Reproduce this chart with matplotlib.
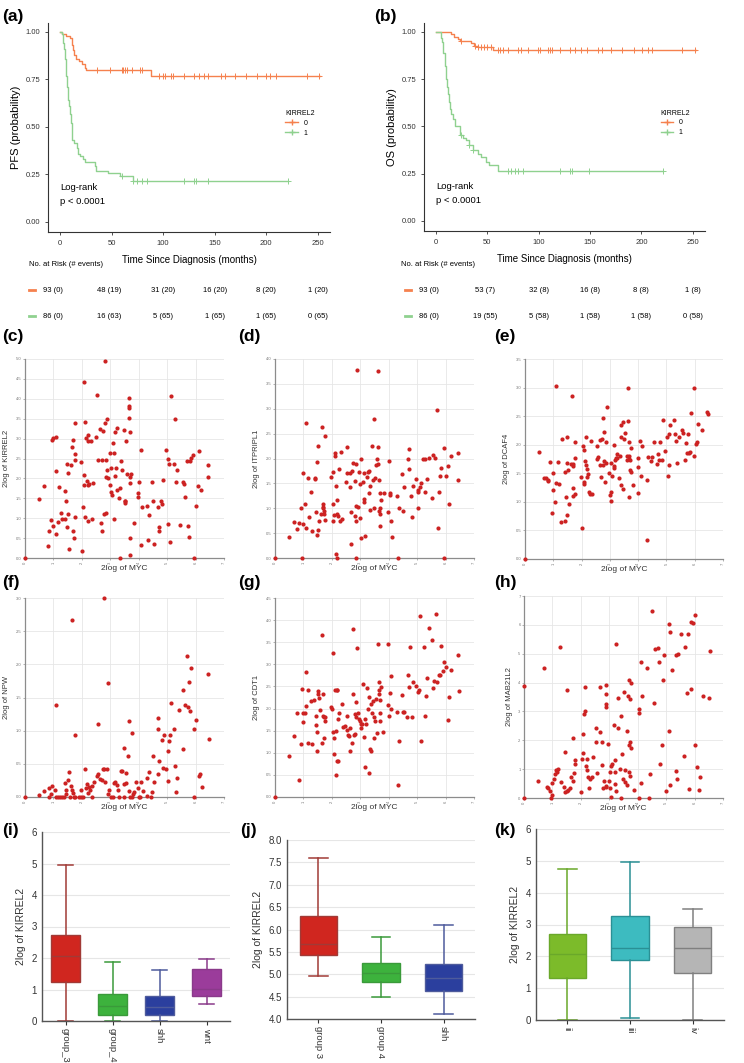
import numpy as np
import matplotlib
matplotlib.use('Agg')
import matplotlib.pyplot as plt
from matplotlib.transforms import blended_transform_factory

plt.rcParams['font.family'] = ['Liberation Sans', 'DejaVu Sans']

W, H = 744, 1063

# ---------------- survival data (a) PFS, (b) OS ----------------
pfs0_t = [0, 2, 6, 10, 12, 13, 14, 15, 18, 21, 24, 25, 88, 252]
pfs0_s = [1.0, 0.99, 0.98, 0.97, 0.93, 0.905, 0.88, 0.855, 0.845, 0.83, 0.81, 0.797, 0.77, 0.77]
pfs0_c = [36, 48, 60, 61.5, 63, 64.5, 70, 78, 80, 96.5, 100, 101.5, 107.5, 109.5, 120, 130, 135,
          139.5, 144, 156, 160, 170, 180, 191.5, 199.5, 204, 210, 239.5, 251.5]
pfs1_t = [0, 2, 3, 4, 4.5, 5.5, 6, 7, 8, 9, 10, 11, 12, 14, 16, 17.5, 19, 22, 24, 34, 35, 47, 58, 70.5, 221]
pfs1_s = [1.0, 0.99, 0.94, 0.91, 0.86, 0.83, 0.77, 0.71, 0.64, 0.61, 0.57, 0.52, 0.43, 0.415, 0.39,
          0.36, 0.345, 0.33, 0.315, 0.295, 0.27, 0.255, 0.24, 0.215, 0.215]
pfs1_c = [60, 70.5, 75, 80, 84, 120, 130, 131.5, 144, 221]

os0_t = [0, 14.5, 17.5, 21, 23.5, 34, 37, 40.5, 55.5, 253]
os0_s = [1.0, 0.988, 0.975, 0.96, 0.95, 0.94, 0.926, 0.918, 0.904, 0.904]
os0_c = [24, 38, 41, 44, 47, 50, 53.5, 60, 62, 65, 70, 80, 83, 90, 99.5, 101, 109, 111, 112.5, 120.5,
         130.5, 135.5, 141, 147, 158, 161.5, 170, 181, 192.5, 201, 206, 210.5, 240, 252.5]
os1_t = [0, 4.6, 6, 7, 8.5, 9.5, 10.5, 11.8, 12.8, 13.7, 15, 16.7, 18.3, 23.5, 26, 29, 32, 35.7, 40.6,
         44, 48.8, 51.4, 60, 221.5]
os1_s = [1.0, 0.97, 0.944, 0.89, 0.82, 0.75, 0.707, 0.67, 0.63, 0.59, 0.567, 0.54, 0.5, 0.456, 0.44,
         0.426, 0.404, 0.377, 0.356, 0.34, 0.312, 0.296, 0.263, 0.263]
os1_c = [24.2, 32, 35.7, 70, 73.3, 77, 80, 84.7, 120.7, 130.6, 132, 148.6, 221.5]

risk_times = [-7, 48, 100, 150, 200, 250]
pfs_risk0 = ['93 (0)', '48 (19)', '31 (20)', '16 (20)', '8 (20)', '1 (20)']
pfs_risk1 = ['86 (0)', '16 (63)', '5 (65)', '1 (65)', '1 (65)', '0 (65)']
os_risk0 = ['93 (0)', '53 (7)', '32 (8)', '16 (8)', '8 (8)', '1 (8)']
os_risk1 = ['86 (0)', '19 (55)', '5 (58)', '1 (58)', '1 (58)', '0 (58)']

# ---------------- scatter data: (2log MYC, 2log gene) ----------------
c_pts = [(0.50,1.48),(0.68,1.80),(0.90,0.96),(0.94,2.97),(1.00,3.01),(1.09,3.03),(1.08,2.19),(0.98,0.80),
         (0.84,0.68),(1.09,0.60),(1.17,0.90),(1.18,1.78),(1.25,1.14),(1.30,0.98),(1.41,1.68),(1.42,0.98),
         (1.43,1.44),(1.48,2.37),(1.51,2.14),(1.48,0.77),(1.52,1.10),(1.63,2.34),(1.65,2.78),(1.68,0.69),
         (1.70,2.97),(1.71,0.49),(1.75,2.47),(1.77,2.62),(1.77,3.39),(1.77,1.03),(1.97,2.41),(2.04,1.29),
         (2.06,4.42),(2.08,2.08),(2.08,1.84),(2.12,3.41),(2.11,1.03),(2.16,3.01),(2.18,1.94),(2.20,1.83),
         (2.22,2.93),(2.23,3.09),(2.25,1.85),(2.23,0.92),(2.33,2.95),(2.36,0.99),(2.39,1.88),(2.51,3.04),
         (2.53,4.10),(2.56,2.47),(2.64,3.24),(2.67,0.87),(2.70,2.47),(2.72,0.68),(2.74,3.20),(2.77,1.11),
         (2.81,4.96),(2.83,3.39),(2.84,1.13),(2.85,2.03),(2.86,2.47),(2.87,2.20),(2.90,3.50),(2.92,2.00),
         (2.99,2.63),(2.99,1.83),(3.01,2.25),(3.02,1.66),(3.06,1.58),(3.11,2.89),(3.13,0.97),(3.14,2.65),
         (3.15,3.17),(3.18,2.07),(3.20,2.25),(3.25,3.27),(3.25,1.71),(3.31,1.52),(3.33,1.76),(3.36,2.43),
         (3.41,2.22),(3.48,3.22),(3.51,1.37),(3.51,1.44),(3.53,1.42),(3.55,2.95),(3.58,2.10),(3.65,3.77),
         (3.65,3.83),(3.66,4.03),(3.67,3.51),(3.69,3.16),(3.68,1.89),(3.71,2.04),(3.74,2.12),(3.71,0.51),
         (3.82,0.87),(3.99,1.64),(3.99,1.53),(4.01,1.92),(4.09,2.71),(4.10,1.29),(4.29,1.31),(4.33,0.45),
         (4.37,1.09),(4.47,1.92),(4.50,1.44),(4.68,1.29),(4.70,0.68),(4.72,0.78),(4.78,1.42),(4.82,1.35),
         (4.87,1.97),(4.95,2.71),(5.04,2.49),(5.04,0.85),(5.07,2.36),(5.13,4.08),(5.24,2.36),(5.28,3.48),
         (5.31,1.91),(5.36,2.22),(5.44,0.83),(5.55,1.91),(5.58,1.85),(5.63,1.53),(5.70,2.43),(5.74,0.80),
         (5.78,0.52),(5.80,2.43),(5.85,2.51),(5.92,2.58),(6.01,1.31),(6.08,1.80),(6.12,2.68),(6.20,1.71),
         (6.42,2.33),(6.45,2.03),(0.0,0.0),(0.80,0.31),(1.56,0.23),(1.99,0.18),(3.34,0.0),(3.68,0.07),
         (4.07,0.32),(4.55,0.35),(5.09,0.39),(5.96,0.0)]

d_pts = [(0.49,0.42),(0.68,0.72),(0.79,0.58),(0.83,0.70),(0.90,1.01),(0.97,0.69),(0.98,1.71),(1.07,1.09),
         (1.08,2.71),(1.08,0.60),(1.16,1.61),(1.18,0.83),(1.25,1.32),(1.29,0.55),(1.40,1.60),(1.42,1.59),
         (1.43,0.92),(1.47,1.93),(1.48,0.47),(1.50,0.56),(1.51,2.26),(1.55,0.75),(1.62,0.88),(1.64,2.64),
         (1.68,1.03),(1.69,1.09),(1.70,1.00),(1.72,0.95),(1.72,0.89),(1.75,0.76),(1.77,2.45),(1.97,1.63),
         (2.03,0.75),(2.04,1.72),(2.05,1.09),(2.09,0.87),(2.10,2.11),(2.11,2.06),(2.15,1.44),(2.17,0.89),
         (2.19,1.17),(2.22,0.84),(2.24,1.79),(2.30,0.75),(2.33,2.13),(2.36,0.79),(2.51,1.52),(2.52,1.71),
         (2.54,2.24),(2.63,1.70),(2.64,1.43),(2.68,0.93),(2.72,1.74),(2.74,1.91),(2.81,1.54),(2.82,0.84),
         (2.84,0.74),(2.85,1.89),(2.86,1.04),(2.88,3.77),(2.93,1.03),(2.95,1.73),(2.99,0.81),(3.00,1.48),
         (3.01,2.00),(3.04,0.41),(3.09,1.53),(3.12,1.19),(3.13,1.70),(3.14,1.12),(3.17,0.44),(3.22,1.62),
         (3.26,1.73),(3.29,1.74),(3.32,1.31),(3.33,0.97),(3.35,1.45),(3.41,2.25),(3.46,1.56),(3.48,2.79),
         (3.48,1.00),(3.51,1.61),(3.55,1.87),(3.59,1.99),(3.63,2.23),(3.63,3.75),(3.63,1.89),(3.67,1.56),
         (3.66,0.95),(3.68,0.65),(3.68,1.01),(3.71,0.88),(3.71,1.31),(3.74,1.16),(3.82,1.31),(3.97,0.92),
         (4.01,1.94),(4.03,1.30),(4.06,1.27),(4.08,0.75),(4.11,0.43),(4.28,1.24),(4.37,1.00),(4.45,1.69),
         (4.49,0.95),(4.54,1.43),(4.67,1.98),(4.70,2.20),(4.71,1.79),(4.77,1.25),(4.82,0.83),(4.85,1.45),
         (4.95,1.58),(5.03,1.36),(5.04,1.32),(5.04,1.00),(5.09,1.43),(5.12,1.50),(5.22,1.98),(5.28,1.99),
         (5.26,1.33),(5.33,1.59),(5.42,2.02),(5.53,1.20),(5.56,2.08),(5.63,2.01),(5.69,2.97),(5.73,0.60),
         (5.77,1.32),(5.79,1.65),(5.84,1.81),(5.94,2.21),(6.01,1.65),(6.07,1.84),(6.11,1.09),(6.20,2.05),
         (6.42,2.12),(6.45,1.57),(0.0,0.0),(0.94,0.0),(2.16,0.09),(2.17,0.0),(2.68,0.29),(2.85,0.0),
         (4.31,0.0),(5.96,0.0)]

e_pts = [(0.49,1.88),(0.67,1.41),(0.74,1.41),(0.80,1.39),(0.83,1.37),(0.89,1.70),(0.94,0.80),(0.99,1.21),
         (0.99,1.50),(1.07,0.99),(1.08,1.33),(1.09,3.03),(1.15,1.70),(1.19,1.32),(1.27,0.65),(1.30,2.10),
         (1.41,0.66),(1.43,1.52),(1.44,1.09),(1.48,0.77),(1.50,2.14),(1.50,1.68),(1.53,1.56),(1.56,0.96),
         (1.64,1.67),(1.66,2.86),(1.68,1.10),(1.69,1.25),(1.70,1.62),(1.71,1.66),(1.75,1.14),(1.76,1.76),
         (1.77,2.04),(1.99,1.44),(2.03,0.55),(2.06,1.97),(2.07,1.34),(2.09,1.31),(2.09,1.91),(2.13,1.71),
         (2.16,2.13),(2.17,1.65),(2.20,1.57),(2.20,1.44),(2.23,1.48),(2.25,1.17),(2.30,1.14),(2.35,2.06),
         (2.37,1.13),(2.53,1.97),(2.55,1.75),(2.57,1.78),(2.64,1.65),(2.64,2.08),(2.70,1.43),(2.72,2.10),
         (2.75,1.65),(2.77,2.46),(2.80,2.23),(2.81,1.72),(2.85,1.68),(2.85,2.04),(2.84,1.34),(2.91,2.66),
         (2.96,1.51),(2.99,1.12),(3.03,1.02),(3.03,1.68),(3.04,1.18),(3.07,1.46),(3.13,1.62),(3.15,1.59),
         (3.16,1.99),(3.18,1.73),(3.22,1.76),(3.24,1.83),(3.26,1.76),(3.34,1.41),(3.35,1.81),(3.39,2.34),
         (3.41,2.13),(3.41,1.30),(3.48,1.22),(3.48,2.39),(3.51,2.10),(3.53,2.20),(3.60,1.81),(3.62,1.73),
         (3.64,2.99),(3.64,2.41),(3.67,2.04),(3.68,1.80),(3.68,1.09),(3.69,1.75),(3.70,1.73),(3.70,1.56),
         (3.73,1.95),(3.73,1.53),(3.83,1.29),(3.99,1.15),(4.01,1.77),(4.01,1.61),(4.07,2.07),(4.10,1.46),
         (4.12,1.97),(4.30,1.38),(4.36,1.79),(4.46,1.72),(4.49,1.78),(4.57,2.04),(4.68,1.66),(4.70,1.84),
         (4.75,1.73),(4.79,2.05),(4.85,1.73),(4.89,2.43),(4.96,1.89),(5.03,2.14),(5.05,1.46),(5.08,2.19),
         (5.08,1.64),(5.14,2.35),(5.26,2.44),(5.29,2.18),(5.33,2.07),(5.36,1.68),(5.45,2.13),(5.56,2.26),
         (5.59,2.21),(5.64,1.73),(5.69,2.03),(5.73,1.86),(5.77,2.19),(5.79,1.86),(5.83,1.88),(5.86,2.56),
         (5.96,1.80),(5.97,2.99),(6.03,2.02),(6.08,2.04),(6.12,2.37),(6.24,2.25),(6.44,2.58),(6.46,2.54),
         (4.32,0.33),(0.0,0.0)]

f_pts = [(2.77,3.00),(1.65,2.67),(1.09,1.38),(1.77,0.94),(2.56,1.10),(2.91,1.72),(3.65,1.15),(3.75,0.96),
         (3.49,0.74),(4.69,1.19),(4.68,1.02),(4.83,0.86),(4.88,0.94),(5.09,0.94),(5.06,0.84),(5.13,1.42),
         (5.24,1.03),(5.43,1.31),(5.55,0.73),(5.57,1.62),(5.63,1.38),(5.69,2.12),(5.72,1.35),(5.78,1.74),
         (5.80,1.29),(5.85,1.94),(5.96,1.03),(6.03,1.16),(6.45,1.86),(6.46,0.87),
         (0.00,0.00),(0.50,0.03),(0.68,0.09),(0.83,0.13),(0.84,0.00),(0.90,0.04),(0.96,0.16),(1.06,0.11),
         (1.09,0.00),(1.17,0.00),(1.23,0.00),(1.30,0.00),(1.37,0.00),(1.42,0.21),(1.44,0.10),(1.45,0.05),
         (1.50,0.26),(1.55,0.37),(1.58,0.00),(1.62,0.16),(1.65,0.10),(1.69,0.06),(1.71,0.00),(1.75,0.00),
         (1.89,0.00),(1.97,0.10),(1.98,0.00),(2.04,0.00),(2.12,0.42),(2.15,0.14),(2.19,0.19),(2.22,0.06),
         (2.26,0.15),(2.30,0.10),(2.34,0.17),(2.37,0.00),(2.43,0.22),(2.52,0.31),(2.58,0.35),(2.64,0.27),
         (2.70,0.25),(2.73,0.42),(2.77,0.42),(2.82,0.22),(2.87,0.42),(2.91,0.04),(2.97,0.10),(3.02,0.00),
         (3.11,0.00),(3.13,0.21),(3.16,0.22),(3.22,0.18),(3.28,0.11),(3.32,0.00),(3.36,0.39),(3.41,0.39),
         (3.47,0.00),(3.48,0.19),(3.55,0.36),(3.57,0.21),(3.62,0.62),(3.65,0.09),(3.71,0.00),(3.76,0.00),
         (3.81,0.05),(3.83,0.08),(3.91,0.23),(3.98,0.14),(4.01,0.00),(4.05,0.00),(4.09,0.23),(4.14,0.09),
         (4.28,0.28),(4.30,0.01),(4.37,0.38),(4.44,0.00),(4.48,0.08),(4.51,0.62),(4.55,0.22),(4.69,0.34),
         (4.72,0.55),(4.86,0.44),(4.96,0.42),(5.04,0.24),(5.03,0.69),(5.27,0.47),(5.31,0.07),(5.36,0.29),
         (5.96,0.00),(6.11,0.32),(6.14,0.34),(6.21,0.15)]

g_pts = [(0.68,1.39),(0.79,1.91),(0.90,1.20),(0.94,2.44),(0.97,1.91),(0.97,1.70),(1.06,1.91),(1.08,2.83),
         (1.08,2.06),(1.15,2.42),(1.17,1.21),(1.25,2.18),(1.29,1.19),(1.38,2.19),(1.44,1.63),(1.45,1.84),
         (1.47,1.48),(1.51,2.39),(1.51,2.33),(1.55,2.23),(1.58,1.97),(1.64,3.67),(1.65,1.21),(1.69,1.84),
         (1.69,2.33),(1.72,1.34),(1.73,1.81),(1.76,1.71),(1.76,1.82),(1.98,2.04),(2.00,2.00),(2.03,3.25),
         (2.03,1.47),(2.09,1.33),(2.11,2.42),(2.15,1.50),(2.17,2.42),(2.19,2.42),(2.23,1.76),(2.26,1.90),
         (2.34,2.10),(2.39,1.59),(2.45,1.60),(2.52,1.84),(2.53,1.51),(2.56,1.41),(2.60,1.37),(2.65,1.55),
         (2.70,1.21),(2.73,2.33),(2.76,3.80),(2.77,1.41),(2.83,1.87),(2.83,1.42),(2.85,2.14),(2.86,1.82),
         (2.90,3.38),(2.92,1.90),(2.97,1.76),(2.99,1.71),(3.01,1.66),(3.02,1.57),(3.05,1.66),(3.09,2.56),
         (3.14,1.36),(3.17,1.77),(3.19,1.66),(3.22,2.47),(3.27,1.99),(3.32,2.27),(3.33,1.09),(3.38,2.11),
         (3.41,1.91),(3.46,2.16),(3.48,1.34),(3.49,1.81),(3.52,1.71),(3.55,2.21),(3.58,1.44),(3.62,3.47),
         (3.65,2.59),(3.65,2.41),(3.66,2.33),(3.68,1.90),(3.68,1.71),(3.71,2.19),(3.74,2.49),(3.81,1.46),
         (3.97,3.47),(3.97,2.07),(4.02,1.84),(4.04,2.35),(4.08,1.99),(4.09,2.74),(4.28,1.92),(4.37,1.26),
         (4.45,2.31),(4.49,1.93),(4.54,1.93),(4.65,1.81),(4.69,2.75),(4.70,2.48),(4.76,3.40),(4.83,1.81),
         (4.87,2.61),(4.95,2.51),(5.04,2.38),(5.05,2.42),(5.09,4.09),(5.12,1.27),(5.24,3.40),(5.26,1.84),
         (5.30,2.29),(5.35,2.70),(5.43,3.83),(5.54,3.56),(5.55,2.47),(5.61,2.63),(5.68,4.13),(5.71,2.61),
         (5.76,2.76),(5.79,2.77),(5.84,3.42),(5.91,2.85),(5.94,3.05),(6.01,2.95),(6.11,2.26),(6.08,1.73),
         (6.20,2.87),(6.43,3.20),(6.46,2.40),
         (0.00,0.00),(0.48,0.92),(0.83,0.39),(1.47,1.05),(2.07,0.98),(2.19,0.82),(2.23,0.81),(2.16,0.50),
         (2.64,1.03),(3.15,0.67),(3.30,0.55),(3.36,1.05),(4.31,0.27)]

h_pts = [(0.00,3.89),(0.69,4.51),(1.28,5.24),(1.52,3.75),(1.72,2.08),(2.07,2.21),(2.11,2.91),(2.13,3.86),
         (2.14,3.00),(2.54,2.42),(2.54,1.95),(2.67,3.84),(2.67,2.27),(2.76,1.93),(2.87,3.93),(2.88,3.61),
         (2.89,3.26),(2.87,3.15),(2.94,1.86),(3.15,2.52),(3.22,5.34),(3.29,3.48),(3.30,2.41),(3.41,2.84),
         (3.51,3.67),(3.61,2.32),(3.67,3.54),(3.70,4.08),(3.69,1.84),(3.72,1.95),(3.74,3.44),(3.75,3.97),
         (3.77,1.75),(4.03,3.09),(4.04,2.93),(4.11,4.73),(4.15,3.55),(4.33,4.52),(4.52,6.47),(4.56,3.30),
         (4.60,5.16),(4.72,5.21),(4.74,4.70),(4.84,1.84),(4.88,4.08),(4.94,4.96),(5.11,6.03),(5.11,2.31),
         (5.15,5.74),(5.21,4.43),(5.33,4.94),(5.43,5.00),(5.52,5.67),(5.65,5.25),(5.72,3.64),(5.76,5.67),
         (5.86,6.09),(5.88,3.77),(5.94,6.06),(6.03,6.35),(6.03,1.85),(6.29,3.53),(6.52,3.47),(6.53,5.09),
         (0.00,0.00),(0.49,0.60),(0.80,0.38),(0.84,0.33),(0.90,0.24),(0.96,0.00),(0.98,0.11),(0.99,0.53),
         (1.05,0.65),(1.09,0.84),(1.11,0.97),(1.15,0.91),(1.19,1.01),(1.29,0.56),(1.41,0.38),(1.43,0.22),
         (1.45,1.60),(1.50,0.24),(1.55,0.26),(1.62,0.33),(1.66,0.73),(1.71,0.60),(1.76,0.85),(1.78,1.19),
         (1.79,1.31),(2.01,0.20),(2.04,1.34),(2.07,1.56),(2.17,1.10),(2.21,1.36),(2.22,0.97),(2.25,0.74),
         (2.28,0.36),(2.33,0.65),(2.38,0.74),(2.41,1.42),(2.58,0.85),(2.73,1.15),(2.78,0.34),(2.82,0.60),
         (2.87,0.38),(2.90,0.43),(2.99,0.60),(3.01,0.89),(3.04,0.34),(3.06,1.10),(3.07,0.02),(3.09,1.19),
         (3.19,0.90),(3.20,0.47),(3.21,1.33),(3.22,0.23),(3.38,1.00),(3.40,0.00),(3.44,1.53),(3.48,0.65),
         (3.55,0.57),(3.57,0.97),(3.62,0.45),(3.71,0.91),(3.72,0.76),(3.86,0.27),(4.06,0.00),(4.13,0.53),
         (4.38,0.00),(4.44,0.82),(4.78,1.19),(5.00,0.23),(5.13,0.45),(5.34,0.92),(5.37,0.67),(5.62,1.45),
         (5.81,0.32),(6.10,1.06),(6.17,0.26),(6.19,0.74)]

# ---------------- box plot summaries: whislo, q1, med, q3, whishi ----------------
i_groups = ['group_3', 'group_4', 'shh', 'wnt']
i_stats = [(0.0, 1.23, 2.05, 2.72, 4.95), (0.0, 0.20, 0.47, 0.87, 1.87),
           (0.0, 0.20, 0.45, 0.79, 1.62), (0.55, 0.80, 1.03, 1.66, 1.97)]
j_groups = ['group 3', 'group 4', 'shh']
j_stats = [(4.95, 5.43, 5.68, 6.30, 7.60), (4.49, 4.82, 5.02, 5.26, 5.84),
           (4.12, 4.62, 4.91, 5.22, 6.09)]
k_groups = ['ii', 'iii', 'iv']
k_stats = [(0.0, 1.32, 2.07, 2.70, 4.75), (0.05, 1.87, 2.25, 3.27, 4.95),
           (0.0, 1.47, 2.25, 2.92, 3.50)]

ORANGE = '#F5814E'
GREEN = '#8FD18F'
RED = '#CC2222'


def rect(l, r, t, b):
    return [l / W, 1 - b / H, (r - l) / W, (b - t) / H]


fig = plt.figure(figsize=(W / 100, H / 100), dpi=100)


def label(x, y, s):
    fig.text(x / W, 1 - y / H, s, fontsize=12.5, fontweight='bold', va='center', ha='left')


def km(pos, curves, ylab, risk0, risk1, lbl, lblx, riskx):
    ax = fig.add_axes(rect(*pos))
    for t, s, cens, col, name in curves:
        ax.step(t, s, where='post', color=col, lw=1.0, label=name)
        idx = np.searchsorted(t, cens, side='right') - 1
        ax.plot(cens, np.array(s)[idx], ls='none', marker='+', ms=4, mew=0.7, color=col)
    ax.set_xlim(-11.7, 262)
    ax.set_ylim(-0.053, 1.047)
    ax.set_xticks([0, 50, 100, 150, 200, 250])
    ax.set_yticks([0, 0.25, 0.5, 0.75, 1.0])
    ax.set_yticklabels(['0.00', '0.25', '0.50', '0.75', '1.00'])
    ax.tick_params(labelsize=5.5, length=2, width=0.6, colors='#333333')
    for sp in ['top', 'right']:
        ax.spines[sp].set_visible(False)
    for sp in ['left', 'bottom']:
        ax.spines[sp].set_linewidth(0.8)
        ax.spines[sp].set_color('#333333')
    ax.set_ylabel(ylab, fontsize=8, labelpad=3)
    ax.set_xlabel('Time Since Diagnosis (months)', fontsize=7, labelpad=6)
    ax.text(0, 0.145, 'Log-rank\np < 0.0001', fontsize=6.8, va='center', linespacing=1.7)
    leg = ax.legend(title='KIRREL2', loc='center left', bbox_to_anchor=(0.82, 0.52), frameon=False,
                    fontsize=5, title_fontsize=5, handlelength=1.8, labelspacing=0.4, alignment='left')
    for hl in leg.legend_handles:
        hl.set_marker('+')
        hl.set_markersize(4)
    tr = blended_transform_factory(ax.transData, fig.transFigure)
    fig.text(riskx / W, 1 - 265 / H, 'No. at Risk (# events)', fontsize=5.5, va='center')
    for row, vals, col in [(290, risk0, ORANGE), (316, risk1, GREEN)]:
        for tt, v in zip(risk_times, vals):
            ax.text(tt, 1 - row / H, v, transform=tr, fontsize=5.5, ha='center', va='center')
        ax.plot([-30, -24], [1 - row / H] * 2, transform=tr, color=col, lw=2, clip_on=False)
    label(lblx, 16, lbl)
    return ax


km((48, 330, 23, 232), [(pfs0_t, pfs0_s, pfs0_c, ORANGE, '0'), (pfs1_t, pfs1_s, pfs1_c, GREEN, '1')],
   'PFS (probability)', pfs_risk0, pfs_risk1, '(a)', 2, 29)
km((424, 705, 23, 231), [(os0_t, os0_s, os0_c, ORANGE, '0'), (os1_t, os1_s, os1_c, GREEN, '1')],
   'OS (probability)', os_risk0, os_risk1, '(b)', 374, 401)


def scatter(pos, pts, ymax, ystep, ylab, lbl, lblpos, intlab=False):
    ax = fig.add_axes(rect(*pos))
    x, y = zip(*pts)
    ax.scatter(x, y, s=9, color=RED, linewidths=0, zorder=3, clip_on=False)
    ax.set_xlim(0, 7)
    ax.set_ylim(0, ymax)
    ax.set_xticks(range(8))
    yt = np.arange(0, ymax + 1e-9, ystep)
    ax.set_yticks(yt)
    if intlab:
        ax.set_yticklabels(['%d' % v for v in yt])
    else:
        ax.set_yticklabels(['%.1f' % v for v in yt])
    ax.tick_params(labelsize=3, length=1.5, width=0.4, colors='#777777', pad=1)
    for tl in ax.get_xticklabels():
        tl.set_rotation(90)
    ax.grid(True, color='#E6E6E6', lw=0.6)
    ax.set_axisbelow(True)
    for sp in ['top', 'right']:
        ax.spines[sp].set_visible(False)
    for sp in ['left', 'bottom']:
        ax.spines[sp].set_color('#8C8C8C')
        ax.spines[sp].set_linewidth(0.9)
    ax.set_xlabel('2log of MYC', fontsize=6, labelpad=1, color='#333333')
    ax.set_ylabel(ylab, fontsize=5.5, labelpad=4, color='#333333')
    label(lblpos[0], lblpos[1], lbl)


scatter((25, 224, 359, 558), c_pts, 5.0, 0.5, '2log of KIRREL2', '(c)', (2, 337))
scatter((275, 474, 359, 558), d_pts, 4.0, 0.5, '2log of ITPRIPL1', '(d)', (238, 337))
scatter((525, 723, 359, 559), e_pts, 3.5, 0.5, '2log of DCAF4', '(e)', (494, 337))
scatter((25, 224, 598, 797), f_pts, 3.0, 0.5, '2log of NPW', '(f)', (2, 582))
scatter((275, 474, 598, 797), g_pts, 4.5, 0.5, '2log of CDT1', '(g)', (238, 582))
scatter((524, 723, 596, 798), h_pts, 7, 1, '2log of MAB21L2', '(h)', (494, 582), intlab=True)


def boxes(pos, groups, stats, fills, edges, ylim, yticks, yfmt, lbl, lblpos):
    ax = fig.add_axes(rect(*pos))
    bstats = [dict(whislo=s[0], q1=s[1], med=s[2], q3=s[3], whishi=s[4], label=g)
              for g, s in zip(groups, stats)]
    b = ax.bxp(bstats, positions=range(len(groups)), widths=0.6, patch_artist=True, showfliers=False)
    for k in range(len(groups)):
        b['boxes'][k].set_facecolor(fills[k])
        b['boxes'][k].set_edgecolor(edges[k])
        b['boxes'][k].set_linewidth(1.0)
        b['medians'][k].set_color(edges[k])
        b['medians'][k].set_linewidth(1.0)
        for w in b['whiskers'][2 * k:2 * k + 2] + b['caps'][2 * k:2 * k + 2]:
            w.set_color(edges[k])
            w.set_linewidth(1.1)
    ax.set_xlim(-0.5, len(groups) - 0.5)
    ax.set_ylim(*ylim)
    ax.set_yticks(yticks)
    ax.set_yticklabels([yfmt % v for v in yticks])
    ax.set_xticks(range(len(groups)))
    ax.set_xticklabels(groups, rotation=270, fontsize=6.8)
    ax.tick_params(axis='y', labelsize=7, length=0, colors='#333333')
    ax.tick_params(axis='x', length=3, width=0.8, colors='#333333', pad=2)
    ax.grid(True, axis='y', color='#E6E6E6', lw=0.8)
    ax.set_axisbelow(True)
    for sp in ['top', 'right']:
        ax.spines[sp].set_visible(False)
    for sp in ['left', 'bottom']:
        ax.spines[sp].set_color('#555555')
        ax.spines[sp].set_linewidth(1.0)
    ax.set_ylabel('2log of KIRREL2', fontsize=7.5, color='#333333')
    label(lblpos[0], lblpos[1], lbl)


boxes((42, 230, 832, 1021), i_groups, i_stats,
      ['#D0261F', '#3DB23D', '#2B3F9E', '#9B3C9B'], ['#A13A36', '#3A9A3A', '#4E5B9C', '#8A3A8A'],
      (0, 6), [0, 1, 2, 3, 4, 5, 6], '%d', '(i)', (2, 830))
boxes((287, 475, 840, 1019), j_groups, j_stats,
      ['#D0261F', '#3DB23D', '#2B3F9E'], ['#A13A36', '#3A9A3A', '#4E5B9C'],
      (4, 8), [4.0, 4.5, 5.0, 5.5, 6.0, 6.5, 7.0, 7.5, 8.0], '%.1f', '(j)', (240, 830))
boxes((536, 724, 829, 1020), k_groups, k_stats,
      ['#7CBB2A', '#3DBBC0', '#B5B5B5'], ['#6AA82A', '#2A9095', '#808080'],
      (0, 6), [0, 1, 2, 3, 4, 5, 6], '%d', '(k)', (494, 830))

fig.savefig('out.png', dpi=100)
plt.close(fig)
